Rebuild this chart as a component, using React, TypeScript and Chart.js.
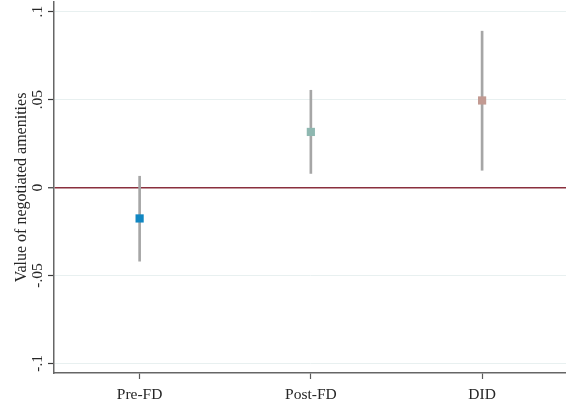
import { useEffect, useRef } from 'react';
import { Chart, registerables } from 'chart.js';

Chart.register(...registerables);

// Point estimates with 95% confidence intervals
const categories = ['Pre-FD', 'Post-FD', 'DID'];
const estimates = [-0.0176, 0.0316, 0.0495];
const ciLow = [-0.0419, 0.008, 0.0098];
const ciHigh = [0.0064, 0.0553, 0.0889];
const markerColors = ['#1187c2', '#8fb8b1', '#c29a92'];

const yTickValues = [-0.1, -0.05, 0, 0.05, 0.1];
const yTickLabels = ['-.1', '-.05', '0', '.05', '.1'];
const yTitle = 'Value of negotiated amenities';

const FONT = '15.5px "Liberation Serif", "Times New Roman", serif';
const TITLE_FONT = '16px "Liberation Serif", "Times New Roman", serif';
const TEXT = '#262626';

// Draws the serif tick labels and the rotated axis title
const serifLabels = {
  id: 'serifLabels',
  afterDraw(chart: any) {
    const { ctx } = chart;
    const x = chart.scales.x;
    const y = chart.scales.y;
    ctx.save();
    ctx.font = FONT;
    ctx.fillStyle = TEXT;
    ctx.textAlign = 'center';
    ctx.textBaseline = 'alphabetic';

    categories.forEach((c, i) => {
      ctx.fillText(c, x.getPixelForValue(i + 1), x.top + 26);
    });

    yTickValues.forEach((v, i) => {
      ctx.save();
      ctx.translate(y.right - 12, y.getPixelForValue(v));
      ctx.rotate(-Math.PI / 2);
      ctx.fillText(yTickLabels[i], 0, 0);
      ctx.restore();
    });

    ctx.font = TITLE_FONT;
    ctx.save();
    ctx.translate(25.5, (chart.chartArea.top + chart.chartArea.bottom) / 2);
    ctx.rotate(-Math.PI / 2);
    ctx.fillText(yTitle, 0, 0);
    ctx.restore();

    ctx.restore();
  },
};

export default function App() {
  const canvasRef = useRef<HTMLCanvasElement | null>(null);

  useEffect(() => {
    document.body.style.margin = '0';
    const canvas = canvasRef.current;
    if (!canvas) return;

    const chart = new Chart(canvas, {
      type: 'bar',
      data: {
        datasets: [
          {
            type: 'scatter',
            data: estimates.map((v, i) => ({ x: i + 1, y: v })),
            backgroundColor: markerColors,
            borderWidth: 0,
            pointStyle: 'rect',
            pointRadius: 5.8,
            order: 0,
          } as any,
          {
            type: 'bar',
            data: categories.map((_, i) => ({ x: i + 1, y: [ciLow[i], ciHigh[i]] })),
            backgroundColor: '#a6a6a6',
            borderWidth: 0,
            barThickness: 2,
            grouped: false,
            order: 1,
          } as any,
        ],
      },
      options: {
        responsive: false,
        animation: false,
        layout: { autoPadding: false, padding: { top: 2, right: 0, left: 0, bottom: 0 } },
        plugins: {
          legend: { display: false },
          tooltip: { enabled: false },
        },
        scales: {
          x: {
            type: 'linear',
            min: 0.5,
            max: 3.49,
            offset: false,
            afterBuildTicks: (scale: any) => {
              scale.ticks = categories.map((_, i) => ({ value: i + 1 }));
            },
            afterFit: (scale: any) => {
              scale.height = 33;
            },
            ticks: { display: false },
            grid: {
              offset: false,
              drawOnChartArea: false,
              drawTicks: true,
              tickLength: 6,
              tickColor: '#5a5a5a',
              tickWidth: 1.2,
            },
            border: { color: '#666666', width: 1.5 },
          },
          y: {
            type: 'linear',
            min: -0.1055,
            max: 0.1055,
            afterBuildTicks: (scale: any) => {
              scale.ticks = yTickValues.map((v) => ({ value: v }));
            },
            afterFit: (scale: any) => {
              scale.width = 54;
            },
            ticks: { display: false },
            grid: {
              color: (c: any) => (c.tick && c.tick.value === 0 ? '#8a2f3d' : '#e8f0f0'),
              lineWidth: (c: any) => (c.tick && c.tick.value === 0 ? 1.5 : 1),
              drawTicks: true,
              tickLength: 6,
              tickColor: '#3a3a3a',
              tickWidth: 1.2,
            },
            border: { color: '#666666', width: 1.5 },
          },
        },
      },
      plugins: [serifLabels],
    } as any);

    return () => chart.destroy();
  }, []);

  return (
    <div style={{ width: 566, height: 406 }}>
      <canvas ref={canvasRef} width={566} height={406} />
    </div>
  );
}
